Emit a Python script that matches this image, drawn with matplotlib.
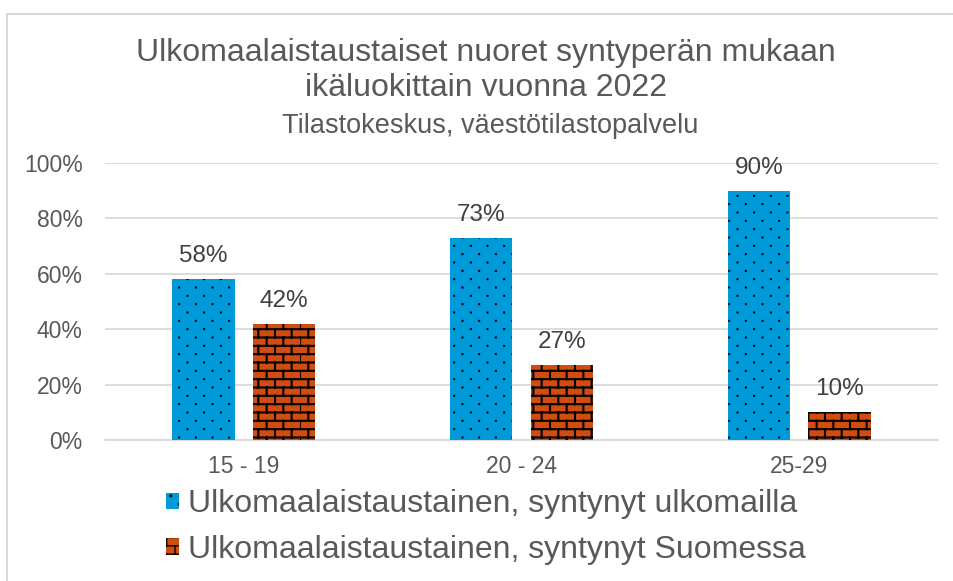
import warnings
import numpy as np
import matplotlib
matplotlib.use("Agg")
import matplotlib.pyplot as plt
from matplotlib import hatch as mhatch
from matplotlib.path import Path
from matplotlib.patches import Rectangle

warnings.filterwarnings("ignore")

# -------------------------------
# Data
# -------------------------------
categories = ["15 - 19", "20 - 24", "25-29"]
born_abroad = [0.58, 0.73, 0.90]
born_finland = [0.42, 0.27, 0.10]
series_names = ["Ulkomaalaistaustainen, syntynyt ulkomailla",
                "Ulkomaalaistaustainen, syntynyt Suomessa"]
yticks = [0, 0.2, 0.4, 0.6, 0.8, 1.0]

title_lines = ["Ulkomaalaistaustaiset nuoret syntyperän mukaan",
               "ikäluokittain vuonna 2022"]
subtitle = "Tilastokeskus, väestötilastopalvelu"

BLUE = "#009ADA"
BRICK = "#D24C12"
TEXT = "#595959"
GRID = "#D9D9D9"


# -------------------------------
# Custom hatch patterns (brick + staggered dots)
# -------------------------------
class BrickHatch(mhatch.HatchPatternBase):
    rows, cols = 12, 6

    def __init__(self, hatch, density):
        self.on = "B" in hatch
        n_h = self.rows
        n_v = (self.rows + 1) * self.cols
        self.num_vertices = (n_h + n_v) * 2 if self.on else 0

    def set_vertices_and_codes(self, vertices, codes):
        segs = []
        step = 1.0 / self.rows
        for i in range(self.rows):
            y = (i + 0.5) * step
            segs.append(((0.0, y), (1.0, y)))
        for i in range(self.rows):
            y0 = (i + 0.5) * step
            y1 = min(y0 + step, 1.0)
            off = 0.5 * (i % 2)
            for j in range(self.cols):
                x = (j + off) / self.cols
                segs.append(((x, y0), (x, y1)))
        # wrapped part of the last row (below the first line)
        off = 0.5 * ((self.rows - 1) % 2)
        for j in range(self.cols):
            x = (j + off) / self.cols
            segs.append(((x, 0.0), (x, 0.5 * step)))
        pts = np.array(segs).reshape(-1, 2)
        vertices[:] = pts
        codes[0::2] = Path.MOVETO
        codes[1::2] = Path.LINETO


class DotHatch(mhatch.HatchPatternBase):
    rows, cols, size = 12, 6, 0.013

    def __init__(self, hatch, density):
        self.on = "D" in hatch
        self.num_vertices = self.rows * self.cols * 5 if self.on else 0

    def set_vertices_and_codes(self, vertices, codes):
        s = self.size / 2
        sq = np.array([[-s, -s], [s, -s], [s, s], [-s, s], [-s, -s]])
        parts = []
        for i in range(self.rows):
            y = (i + 0.5) / self.rows
            off = 0.25 + 0.5 * (i % 2)
            for j in range(self.cols):
                x = (j + off) / self.cols
                parts.append(sq + [x, y])
        vertices[:] = np.concatenate(parts)
        c = np.tile([Path.MOVETO, Path.LINETO, Path.LINETO, Path.LINETO,
                     Path.CLOSEPOLY], self.rows * self.cols)
        codes[:] = c


mhatch._hatch_types.append(BrickHatch)
mhatch._hatch_types.append(DotHatch)

# -------------------------------
# Plot
# -------------------------------
plt.rcParams["font.family"] = ["Liberation Sans", "DejaVu Sans"]

fig = plt.figure(figsize=(9.54, 5.81), dpi=100)
ax = fig.add_axes([105 / 954, (581 - 440) / 581, 833 / 954, 277 / 581])

x = np.arange(len(categories))
w = 0.225
off = 0.145

b1 = ax.bar(x - off, born_abroad, w, color=BLUE, edgecolor="black",
            linewidth=0, hatch="D", label=series_names[0], zorder=3)
b2 = ax.bar(x + off, born_finland, w, color=BRICK, edgecolor="black",
            linewidth=0, hatch="B", label=series_names[1], zorder=3)
for p in b1:
    if hasattr(p, "set_hatch_linewidth"):
        p.set_hatch_linewidth(0.5)
for p in b2:
    if hasattr(p, "set_hatch_linewidth"):
        p.set_hatch_linewidth(1.5)

for bars, vals in [(b1, born_abroad), (b2, born_finland)]:
    for rect, v in zip(bars, vals):
        ax.annotate(f"{v:.0%}", (rect.get_x() + rect.get_width() / 2, v),
                    xytext=(0, 17), textcoords="offset pixels",
                    ha="center", va="baseline", fontsize=17.5, color="#404040")

ax.set_xlim(-0.5, len(categories) - 0.5)
ax.set_ylim(0, 1)
ax.set_yticks(yticks)
ax.set_yticklabels([f"{t:.0%}" for t in yticks])
ax.set_xticks(x)
ax.set_xticklabels(categories)
ax.tick_params(axis="both", length=0, labelsize=16.5, colors=TEXT)
ax.tick_params(axis="y", pad=16)
ax.tick_params(axis="x", pad=11)
ax.grid(axis="y", color=GRID, linewidth=1.3, zorder=0)
for s in ["top", "right", "left"]:
    ax.spines[s].set_visible(False)
ax.spines["bottom"].set_color(GRID)
ax.spines["bottom"].set_linewidth(1.3)

# titles (baselines)
tx = 486 / 954
fig.text(tx, (581 - 61) / 581, title_lines[0], ha="center", va="baseline",
         fontsize=23, color=TEXT)
fig.text(tx, (581 - 96) / 581, title_lines[1], ha="center", va="baseline",
         fontsize=23, color=TEXT)
fig.text(490 / 954, (581 - 133) / 581, subtitle, ha="center", va="baseline",
         fontsize=19.5, color=TEXT)

leg = fig.legend(handles=[b1, b2], loc="upper left",
                 bbox_to_anchor=(166 / 954, (581 - 489) / 581),
                 frameon=False, fontsize=23, handlelength=0.4,
                 handleheight=0.4, handletextpad=0.3, labelspacing=0.5,
                 borderpad=0, borderaxespad=0)
for t in leg.get_texts():
    t.set_color(TEXT)

# chart border (only left and top visible)
fig.add_artist(Rectangle((7 / 954, -0.1), 1.1, (581 - 14) / 581 + 0.1,
                         transform=fig.transFigure, fill=False,
                         edgecolor=GRID, linewidth=1.5))

fig.savefig("out.png", dpi=100)
